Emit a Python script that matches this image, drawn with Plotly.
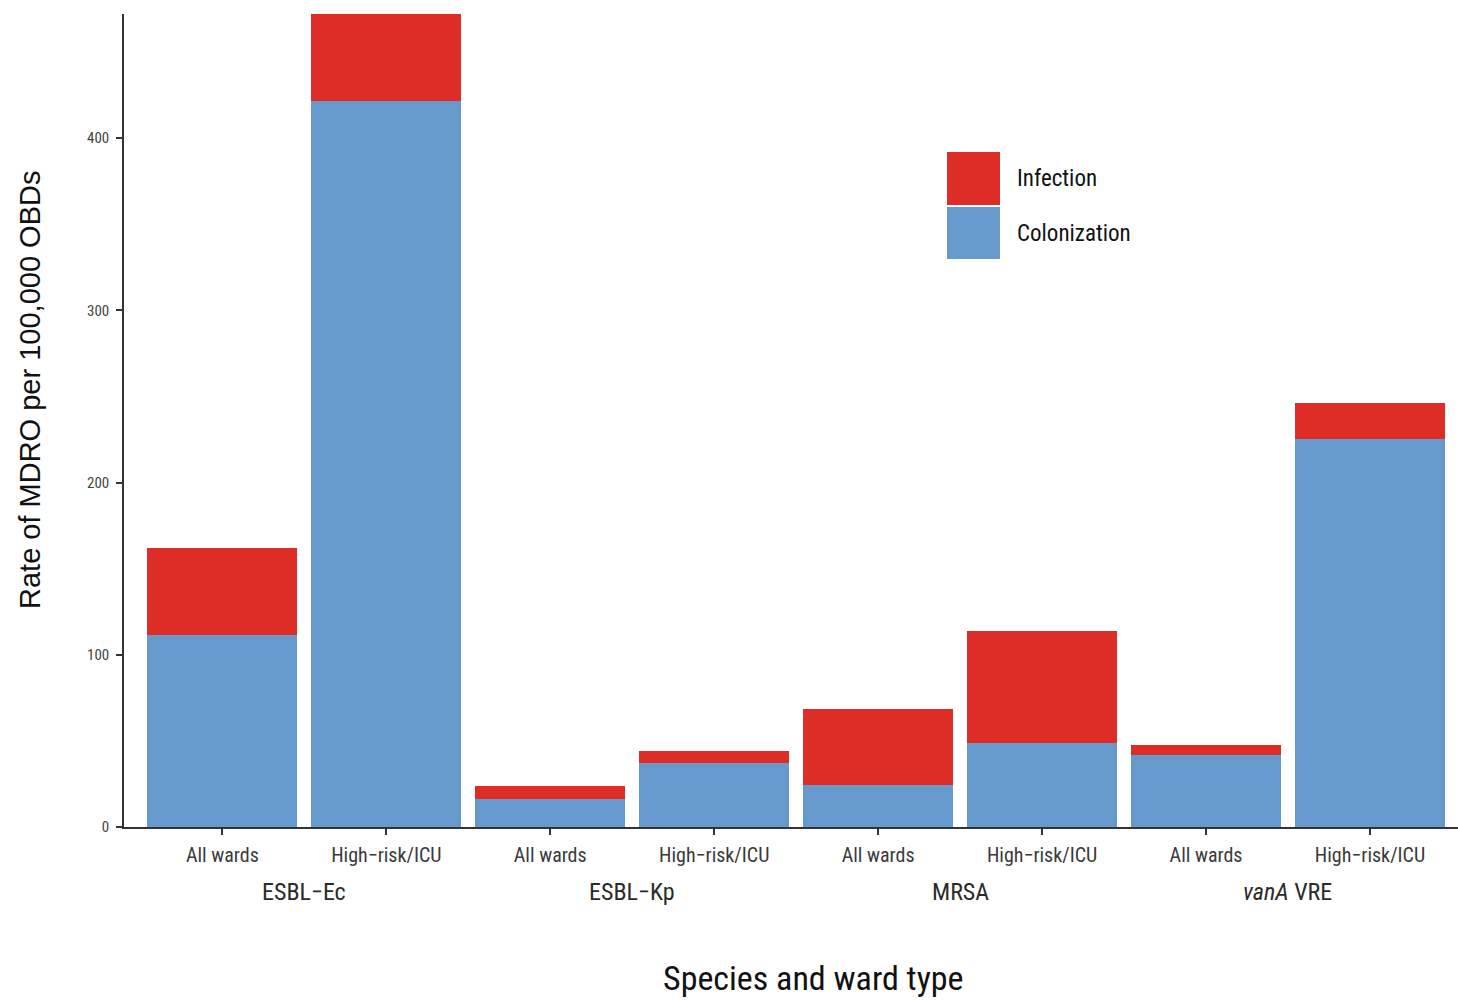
import plotly.graph_objects as go

# Rates of MDRO per 100,000 occupied bed days, by species and ward type
species = ["ESBL\u2212Ec", "ESBL\u2212Kp", "MRSA", "<i>vanA</i> VRE"]
wards = ["All wards", "High\u2212risk/ICU"]
colonization = [111.5, 421.5, 16.3, 37.2, 24.4, 48.8, 41.8, 225.3]
infection = [50.5, 50.5, 7.5, 6.9, 44.1, 65.0, 5.8, 20.9]
y_ticks = [0, 100, 200, 300, 400]

RED = "#DE2D26"
BLUE = "#6699CC"
NARROW = "Liberation Sans Narrow, Arial Narrow, Roboto Condensed, sans-serif"
W, H = 1458, 1000
M = dict(l=124, r=0, t=14, b=173)

x_pos = list(range(len(colonization)))
tick_text = [w for _ in species for w in wards]

fig = go.Figure()
fig.add_trace(go.Bar(x=x_pos, y=colonization, name="Colonization",
                     marker=dict(color=BLUE, line=dict(width=0)),
                     width=0.915, showlegend=False))
fig.add_trace(go.Bar(x=x_pos, y=infection, name="Infection",
                     marker=dict(color=RED, line=dict(width=0)),
                     width=0.915, showlegend=False))

plot_w = W - M["l"] - M["r"]
plot_h = H - M["t"] - M["b"]


def px_x(p):
    return (p - M["l"]) / plot_w


def px_y(p):
    return (H - M["b"] - p) / plot_h


# Legend: two stacked swatches with labels
legend_items = [("Infection", RED, 152, 205), ("Colonization", BLUE, 207, 259)]
for label, color, top, bottom in legend_items:
    fig.add_shape(type="rect", xref="paper", yref="paper",
                  x0=px_x(947), x1=px_x(1000), y0=px_y(bottom), y1=px_y(top),
                  fillcolor=color, line=dict(width=0))
    fig.add_annotation(xref="paper", yref="paper", x=px_x(1015),
                       y=px_y((top + bottom) / 2), text=label, showarrow=False,
                       xanchor="left", yanchor="middle",
                       font=dict(family=NARROW, size=23, color="#111111"))

# Species group labels beneath each pair of bars
for i, sp in enumerate(species):
    fig.add_annotation(x=2 * i + 0.5, xref="x", yref="paper", y=px_y(892),
                       text=sp, showarrow=False, yanchor="middle",
                       font=dict(family=NARROW, size=24, color="#2a2a2a"))

# Axis titles
fig.add_annotation(xref="paper", yref="paper", x=px_x(813), y=px_y(978),
                   text="Species and ward type", showarrow=False,
                   yanchor="middle",
                   font=dict(family=NARROW, size=34, color="#111111"))
fig.add_annotation(xref="paper", yref="paper", x=px_x(30), y=px_y(390),
                   text="Rate of MDRO per 100,000 OBDs", showarrow=False,
                   textangle=-90, xanchor="center", yanchor="middle",
                   font=dict(family="Liberation Sans, Arial, sans-serif",
                             size=29, color="#111111"))

fig.update_layout(
    width=W, height=H, margin=M,
    barmode="stack", bargap=0,
    plot_bgcolor="white", paper_bgcolor="white",
    xaxis=dict(range=[-0.6, 7.537],
               tickmode="array", tickvals=x_pos, ticktext=tick_text,
               ticks="outside", ticklen=6, tickwidth=1.5, tickcolor="#333333",
               showline=True, linecolor="#333333", linewidth=1.5,
               showgrid=False, zeroline=False, ticklabelstandoff=3,
               tickfont=dict(family=NARROW, size=20, color="#3a3a3a")),
    yaxis=dict(range=[0, 472], tickvals=y_ticks,
               ticks="outside", ticklen=6, tickwidth=1.5, tickcolor="#333333",
               showline=True, linecolor="#333333", linewidth=1.5,
               showgrid=False, zeroline=False, ticklabelstandoff=4,
               tickfont=dict(family=NARROW, size=15, color="#444444")),
)

fig.write_html("out.html")
